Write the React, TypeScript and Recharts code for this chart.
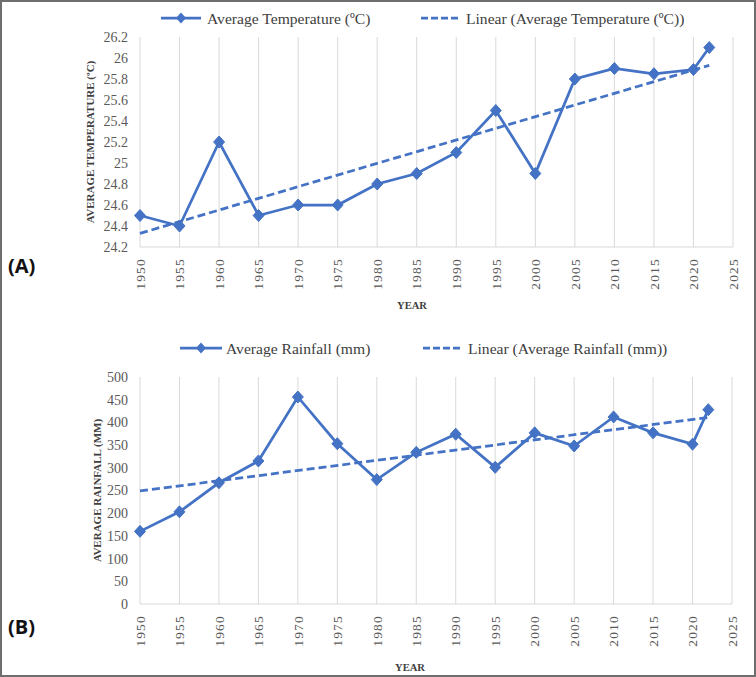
import React from 'react';
import { LineChart, Line, XAxis, YAxis, CartesianGrid } from 'recharts';

// ---------- data ----------
const years = [1950, 1955, 1960, 1965, 1970, 1975, 1980, 1985, 1990, 1995, 2000, 2005, 2010, 2015, 2020, 2022];
const temperature = [24.5, 24.4, 25.2, 24.5, 24.6, 24.6, 24.8, 24.9, 25.1, 25.5, 24.9, 25.8, 25.9, 25.85, 25.89, 26.1];
const rainfall = [160, 203, 267, 315, 456, 353, 274, 334, 374, 301, 377, 348, 412, 377, 352, 428];
const trendYears = [1950, 2022];
const temperatureTrend = [24.33, 25.93];
const rainfallTrend = [249, 411];
const xTicks = [1950, 1955, 1960, 1965, 1970, 1975, 1980, 1985, 1990, 1995, 2000, 2005, 2010, 2015, 2020, 2025];
const tempTicks = [24.2, 24.4, 24.6, 24.8, 25, 25.2, 25.4, 25.6, 25.8, 26, 26.2];
const rainTicks = [0, 50, 100, 150, 200, 250, 300, 350, 400, 450, 500];

const tempSeriesName = 'Average Temperature (ºC)';
const tempTrendName = 'Linear (Average Temperature (ºC))';
const rainSeriesName = 'Average Rainfall (mm)';
const rainTrendName = 'Linear (Average Rainfall (mm))';

const tempData = years.map((y, i) => ({ year: y, value: temperature[i] }));
const tempTrendData = trendYears.map((y, i) => ({ year: y, trend: temperatureTrend[i] }));
const rainData = years.map((y, i) => ({ year: y, value: rainfall[i] }));
const rainTrendData = trendYears.map((y, i) => ({ year: y, trend: rainfallTrend[i] }));

// ---------- styles ----------
const BLUE = '#4472C4';
const SERIF = '"Liberation Serif", "Times New Roman", serif';
const GRID = '#d9d9d9';
const TICK = '#595959';
const DARK = '#404040';

const diamondPath = (cx: number, cy: number, w = 5.5, h = 6) =>
  `M${cx},${cy - h} L${cx + w},${cy} L${cx},${cy + h} L${cx - w},${cy} Z`;

const renderDiamond = (p: any) => {
  if (p.cx == null || p.cy == null) return <g key={`d-${p.index}`} />;
  return <path key={`d-${p.index}`} d={diamondPath(p.cx, p.cy)} fill={BLUE} stroke={BLUE} strokeWidth={1} />;
};

const YearTick = (props: any) => {
  const { x, y, payload } = props;
  return (
    <text
      x={x}
      y={y}
      transform={`rotate(-90 ${x} ${y})`}
      textAnchor="end"
      dy="0.35em"
      fill={TICK}
      fontSize={13.5}
      letterSpacing={1.2}
      fontFamily={SERIF}
    >
      {payload.value}
    </text>
  );
};

const makeYLabel = (text: string, cx: number) => (props: any) => {
  const vb = props.viewBox || {};
  const cy = vb.y + vb.height / 2;
  return (
    <text
      x={cx}
      y={cy}
      transform={`rotate(-90 ${cx} ${cy})`}
      textAnchor="middle"
      dominantBaseline="central"
      fontFamily={SERIF}
      fontWeight="bold"
      fontSize={11}
      fill={DARK}
    >
      {text}
    </text>
  );
};

const makeXLabel = (text: string, cx: number, dyFromAxis: number) => (props: any) => {
  const vb = props.viewBox || {};
  const cy = vb.y + dyFromAxis;
  return (
    <text
      x={cx}
      y={cy}
      textAnchor="middle"
      dominantBaseline="central"
      fontFamily={SERIF}
      fontWeight="bold"
      fontSize={10.6}
      fill={DARK}
    >
      {text}
    </text>
  );
};

const LegendItem = ({ x1, x2, y, dashed, label, textX }: any) => (
  <g>
    <line
      x1={x1}
      x2={x2}
      y1={y}
      y2={y}
      stroke={BLUE}
      strokeWidth={2.75}
      strokeDasharray={dashed ? '7 3' : undefined}
    />
    {!dashed && <path d={diamondPath((x1 + x2) / 2, y, 5, 5.5)} fill={BLUE} />}
    <text x={textX} y={y} dominantBaseline="central" fontFamily={SERIF} fontSize={15.6} fill={DARK}>
      {label}
    </text>
  </g>
);

export default function App() {
  return (
    <div style={{ position: 'absolute', left: 0, top: 0, width: 756, height: 677, background: '#fff', overflow: 'hidden' }}>
      {/* Chart A */}
      <div style={{ position: 'absolute', left: 0, top: 0 }}>
        <LineChart width={756} height={320} margin={{ top: 37, right: 23, left: 0, bottom: 0 }}>
          <CartesianGrid horizontal={false} stroke={GRID} />
          <XAxis
            type="number"
            dataKey="year"
            domain={[1950, 2025]}
            ticks={xTicks}
            interval={0}
            axisLine={{ stroke: GRID }}
            tickLine={false}
            tickSize={0}
            tickMargin={11}
            tick={<YearTick />}
            height={73}
            label={makeXLabel('YEAR', 412, 58)}
          />
          <YAxis
            type="number"
            domain={[24.2, 26.2]}
            ticks={tempTicks}
            interval={0}
            axisLine={false}
            tickLine={false}
            tickSize={0}
            tickMargin={12}
            width={140}
            tick={{ fill: TICK, fontSize: 14, fontFamily: SERIF }}
            label={makeYLabel('AVERAGE  TEMPERATURE (ºC)', 90)}
          />
          <Line
            data={tempTrendData}
            dataKey="trend"
            name={tempTrendName}
            stroke={BLUE}
            strokeWidth={2.75}
            strokeDasharray="8 4"
            dot={false}
            activeDot={false}
            isAnimationActive={false}
          />
          <Line
            data={tempData}
            dataKey="value"
            name={tempSeriesName}
            stroke={BLUE}
            strokeWidth={2.75}
            dot={renderDiamond}
            activeDot={false}
            isAnimationActive={false}
          />
        </LineChart>
      </div>

      {/* Chart B */}
      <div style={{ position: 'absolute', left: 0, top: 320 }}>
        <LineChart width={756} height={357} margin={{ top: 57, right: 24, left: 0, bottom: 0 }}>
          <CartesianGrid horizontal={false} stroke={GRID} />
          <XAxis
            type="number"
            dataKey="year"
            domain={[1950, 2025]}
            ticks={xTicks}
            interval={0}
            axisLine={{ stroke: GRID }}
            tickLine={false}
            tickSize={0}
            tickMargin={11}
            tick={<YearTick />}
            height={73}
            label={makeXLabel('YEAR', 410, 63)}
          />
          <YAxis
            type="number"
            domain={[0, 500]}
            ticks={rainTicks}
            interval={0}
            axisLine={false}
            tickLine={false}
            tickSize={0}
            tickMargin={12}
            width={140}
            tick={{ fill: TICK, fontSize: 14, fontFamily: SERIF }}
            label={makeYLabel('AVERAGE RAINFALL (MM)', 97)}
          />
          <Line
            data={rainTrendData}
            dataKey="trend"
            name={rainTrendName}
            stroke={BLUE}
            strokeWidth={2.75}
            strokeDasharray="8 4"
            dot={false}
            activeDot={false}
            isAnimationActive={false}
          />
          <Line
            data={rainData}
            dataKey="value"
            name={rainSeriesName}
            stroke={BLUE}
            strokeWidth={2.75}
            dot={renderDiamond}
            activeDot={false}
            isAnimationActive={false}
          />
        </LineChart>
      </div>

      {/* legends, panel letters */}
      <svg width={756} height={677} style={{ position: 'absolute', left: 0, top: 0, pointerEvents: 'none' }}>
        <LegendItem x1={161} x2={201} y={18} label={tempSeriesName} textX={207} />
        <LegendItem x1={421} x2={461} y={18} dashed label={tempTrendName} textX={466} />
        <LegendItem x1={180} x2={222} y={348} label={rainSeriesName} textX={226} />
        <LegendItem x1={423} x2={463} y={348} dashed label={rainTrendName} textX={468} />
        <text x={8} y={265} dominantBaseline="central" fontFamily='"Open Sans", "Liberation Sans", sans-serif' fontWeight="bold" fontSize={20} fill="#111">
          (A)
        </text>
        <text x={8} y={626} dominantBaseline="central" fontFamily='"Open Sans", "Liberation Sans", sans-serif' fontWeight="bold" fontSize={20} fill="#111">
          (B)
        </text>
        <rect x={1} y={1} width={754} height={675} fill="none" stroke="#6e6e6e" strokeWidth={2} />
      </svg>
    </div>
  );
}
